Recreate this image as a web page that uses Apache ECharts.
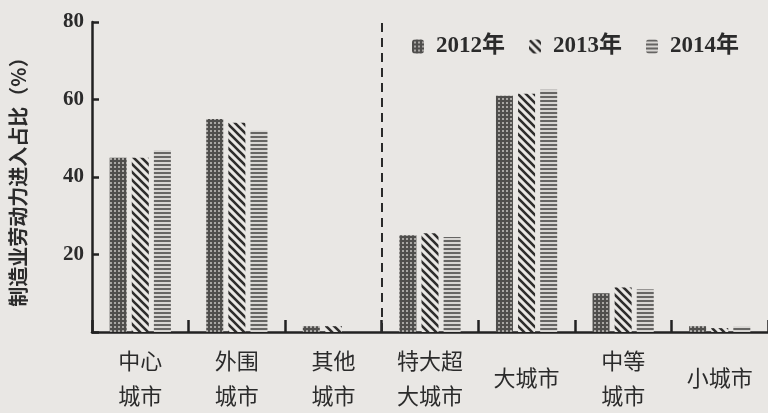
<!DOCTYPE html>
<html>
<head>
<meta charset="utf-8">
<script src="https://cdn.jsdelivr.net/npm/echarts@6/dist/echarts.min.js"></script>
<style>
html,body{margin:0;padding:0;background:#e9e7e4;}
#c{width:768px;height:413px;}
</style>
</head>
<body>
<div id="c"></div>
<script>
const categories = ['中心\n城市','外围\n城市','其他\n城市','特大超\n大城市','大城市','中等\n城市','小城市'];
const seriesNames = ['2012年','2013年','2014年'];
const s2012 = [45, 55, 1.5, 25, 61, 10, 1.5];
const s2013 = [45, 54, 1.5, 25.5, 61.5, 11.5, 1];
const s2014 = [47, 52, 0, 24.5, 62.5, 11, 1.5];
const yTicks = [0, 20, 40, 60, 80];
const dividerAt = 3; // boundary between 其他城市 and 特大超大城市

function pattern(kind){
  const c = document.createElement('canvas');
  const ctx = c.getContext('2d');
  if(kind === 'grid'){
    c.width = 4; c.height = 4;
    ctx.fillStyle = '#a9a7a4'; ctx.fillRect(0,0,4,4);
    ctx.fillStyle = '#4f4e4c';
    ctx.fillRect(0,0,4,2);
    ctx.fillRect(0,0,2,4);
  } else if(kind === 'diag'){
    c.width = 8; c.height = 8;
    ctx.fillStyle = '#e9e7e4'; ctx.fillRect(0,0,8,8);
    ctx.strokeStyle = '#2e2d2c'; ctx.lineWidth = 2.6;
    ctx.beginPath();
    ctx.moveTo(-2,-2); ctx.lineTo(10,10);
    ctx.moveTo(-10,-2); ctx.lineTo(2,10);
    ctx.moveTo(6,-2); ctx.lineTo(18,10);
    ctx.stroke();
  } else {
    c.width = 4; c.height = 4;
    ctx.fillStyle = '#d8d6d3'; ctx.fillRect(0,0,4,4);
    ctx.fillStyle = '#666563'; ctx.fillRect(0,0,4,2);
  }
  return {image: c, repeat: 'repeat'};
}

const fills = [pattern('grid'), pattern('diag'), pattern('horiz')];
const values = [s2012, s2013, s2014];
const serifFont = '"Liberation Serif", "DejaVu Serif", "Noto Sans CJK SC", serif';

const chart = echarts.init(document.getElementById('c'));
const barSeries = seriesNames.map((n,i)=>({
  name: n,
  type: 'bar',
  data: values[i],
  barWidth: 17,
  barGap: '30%',
  itemStyle: {color: fills[i]},
  emphasis: {disabled: true}
}));

barSeries.push({
  type: 'line',
  xAxisIndex: 1,
  data: [],
  silent: true,
  markLine: {
    symbol: 'none',
    silent: true,
    label: {show: false},
    lineStyle: {type: [9, 6], color: '#2a2a2a', width: 2},
    data: [{xAxis: dividerAt}]
  }
});

chart.setOption({
  backgroundColor: '#e9e7e4',
  animation: false,
  legend: {
    data: seriesNames,
    left: 407,
    top: 30,
    itemWidth: 12,
    itemHeight: 14,
    itemGap: 24,
    formatter: '{t|{name}}',
    textStyle: {
      fontFamily: serifFont, fontWeight: 'bold', fontSize: 23, color: '#2b2b2b',
      rich: {t: {fontFamily: serifFont, fontWeight: 'bold', fontSize: 23, color: '#2b2b2b', padding: [0,0,0,7]}}
    }
  },
  grid: {left: 88, right: 0, top: 22, bottom: 80},
  xAxis: [{
    type: 'category',
    data: categories,
    axisLine: {lineStyle: {color: '#222', width: 2.5}},
    axisTick: {show: true, inside: true, length: 12, lineStyle: {color: '#222', width: 2.5}},
    axisLabel: {
      interval: 0,
      margin: 46,
      verticalAlign: 'middle',
      fontFamily: '"Noto Sans CJK SC", sans-serif',
      fontSize: 22,
      lineHeight: 35,
      color: '#2b2b2b'
    }
  }, {
    type: 'value',
    min: 0,
    max: categories.length,
    show: false
  }],
  yAxis: {
    type: 'value',
    min: yTicks[0],
    max: yTicks[yTicks.length-1],
    interval: 20,
    name: '制造业劳动力进入占比（%）',
    nameLocation: 'middle',
    nameRotate: 90,
    nameGap: 64,
    nameTextStyle: {fontFamily: '"Noto Sans CJK SC", sans-serif', fontSize: 20, fontWeight: 'bold', color: '#2b2b2b'},
    splitLine: {show: false},
    axisLine: {show: true, lineStyle: {color: '#222', width: 2.5}},
    axisTick: {show: true, inside: true, length: 7, lineStyle: {color: '#222', width: 2.5}},
    axisLabel: {
      fontFamily: serifFont,
      fontWeight: 'bold',
      fontSize: 21,
      color: '#2b2b2b',
      margin: 8,
      formatter: v => v === 0 ? '' : String(v)
    }
  },
  series: barSeries
});
</script>
</body>
</html>
